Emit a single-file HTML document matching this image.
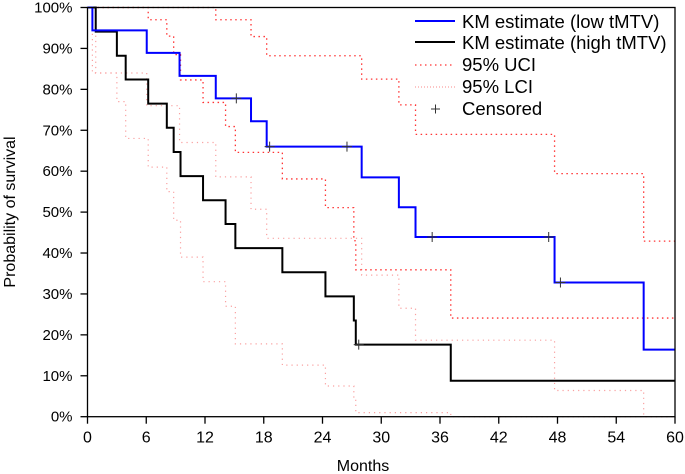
<!DOCTYPE html>
<html><head><meta charset="utf-8"><style>
body{margin:0;background:#fff;}
svg{display:block;font-family:"Liberation Sans",Arial,sans-serif;}
</style></head><body>
<svg id="chart" width="685" height="474" xmlns="http://www.w3.org/2000/svg"></svg>
<script>
const xTicks=[0,6,12,18,24,30,36,42,48,54,60];
const yTicks=[0,10,20,30,40,50,60,70,80,90,100];
const lowTimes=[0,0.5,6.05,9.4,13.1,16.7,18.3,28,31.8,33.5,47.7,56.8,60];
const lowSurv=[100,94.4,88.9,83.3,77.8,72.2,66.0,58.5,51.2,43.9,32.8,16.4,16.4];
const highTimes=[0,0.84,3.0,3.9,6.2,8.1,8.8,9.5,11.8,14.1,15.1,19.9,24.3,27.2,27.4,37.1,60];
const highSurv=[100,94.1,88.2,82.4,76.5,70.6,64.7,58.8,52.9,47.1,41.2,35.3,29.4,23.5,17.6,8.8,8.8];
const lowUciTimes=[0,13.1,16.7,18.3,28,31.8,33.5,47.7,56.8,60];
const lowUci=[100,97,92.9,88.2,82.5,76.2,69,59.4,42.9,42.9];
const highUciTimes=[0,6.2,8.1,8.8,9.5,11.8,14.1,15.1,19.9,24.3,27.2,27.4,37.1,60];
const highUci=[100,97,93,88.5,82.3,76.8,70.9,64.6,58.1,51.1,43,35.9,24.1,24.1];
const lowLciTimes=[0,0.5,6.05,9.4,13.1,16.7,18.3,28,31.8,33.5,47.7,56.8,60];
const lowLci=[100,84,76,67,58.6,50.7,43.6,34.6,26.5,18.7,6.4,0,0];
const highLciTimes=[0,0.84,3.0,3.9,6.2,8.1,8.8,9.5,11.8,14.1,15.1,19.9,24.3,27.2,27.4,37.1,60];
const highLci=[100,84,77,68,61,55,48,39,33,27,17.8,12.6,7.5,4,1,0,0];
const lowCensT=[15.2,18.6,26.5,35.2,47.1,48.3];
const lowCensS=[77.8,66.0,66.0,43.9,43.9,32.8];
const highCensT=[27.7];
const highCensS=[17.6];

const NS='http://www.w3.org/2000/svg';
const svg=document.getElementById('chart');
const X0=87.5,X1=675,Y0=416.7,Y1=7.5;
const xs=t=>X0+(t/60)*(X1-X0);
const ys=v=>Y0-(v/100)*(Y0-Y1);
function mk(tag,attrs,parent){const e=document.createElementNS(NS,tag);for(const k in attrs)e.setAttribute(k,attrs[k]);(parent||svg).appendChild(e);return e;}
function stepPath(T,S){let d='M'+xs(T[0])+','+ys(S[0]);for(let i=1;i<T.length;i++){d+=' H'+xs(T[i])+' V'+ys(S[i]);}return d;}

function series(T,S,stroke,w,dash,name){
  const p=mk('path',{d:stepPath(T,S),fill:'none',stroke:stroke,'stroke-width':w});
  if(dash)p.setAttribute('stroke-dasharray',dash);
  
  
}
series(lowLciTimes,lowLci,'#f9a0a0',1.2,'1.2,4','low-lci-line');
series(highLciTimes,highLci,'#f9a0a0',1.2,'1.2,4','high-lci-line');
series(lowUciTimes,lowUci,'#f33',1.3,'1.5,3.5','low-uci-line');
series(highUciTimes,highUci,'#f33',1.3,'1.5,3.5','high-uci-line');
series(highTimes,highSurv,'#000',2,null,'km-high-tmtv-line');
series(lowTimes,lowSurv,'#00f',2,null,'km-low-tmtv-line');

function cens(T,S,name){for(let i=0;i<T.length;i++){const g=mk('path',{d:'M'+(xs(T[i])-5)+','+ys(S[i])+' h10 M'+xs(T[i])+','+(ys(S[i])-5)+' v10',stroke:'#333','stroke-width':1,fill:'none'});

}}
cens(lowCensT,lowCensS,'censor-mark-low');
cens(highCensT,highCensS,'censor-mark-high');

const fr=mk('rect',{x:X0,y:Y1,width:X1-X0,height:Y0-Y1,fill:'none',stroke:'#000','stroke-width':1.3});



xTicks.forEach(t=>{
  mk('line',{x1:xs(t),x2:xs(t),y1:Y0,y2:Y0+7,stroke:'#000','stroke-width':1.3});
  const tx=mk('text',{x:xs(t),y:Y0+26,'text-anchor':'middle','font-size':16});
  tx.textContent=t;
  
  
});
yTicks.forEach(v=>{
  mk('line',{x1:X0-7,x2:X0,y1:ys(v),y2:ys(v),stroke:'#000','stroke-width':1.3});
  const tx=mk('text',{x:X0-15,y:ys(v)+5,'text-anchor':'end','font-size':15});
  tx.textContent=v+'%';
  
  
});
</script>
<svg style="position:absolute;left:0;top:0" width="685" height="474">
<text x="363" y="471" text-anchor="middle" font-size="16" font-family="Liberation Sans, sans-serif">Months</text>
<text transform="translate(15,212) rotate(-90)" text-anchor="middle" font-size="16" font-family="Liberation Sans, sans-serif">Probability of survival</text>
<g font-size="18.5" font-family="Liberation Sans, sans-serif">
<line x1="415" x2="455" y1="21" y2="21" stroke="#00f" stroke-width="2"/>
<text x="462" y="28">KM estimate (low tMTV)</text>
<line x1="415" x2="455" y1="42" y2="42" stroke="#000" stroke-width="2"/>
<text x="462" y="49">KM estimate (high tMTV)</text>
<line x1="415" x2="455" y1="65" y2="65" stroke="#f33" stroke-width="1.3" stroke-dasharray="1.5,3.5"/>
<text x="462" y="71">95% UCI</text>
<line x1="415" x2="455" y1="87" y2="87" stroke="#f9a0a0" stroke-width="1.2" stroke-dasharray="1,2"/>
<text x="462" y="93">95% LCI</text>
<path d="M431,109 h9 M435.5,104.5 v9" stroke="#333" stroke-width="1"/>
<text x="462" y="115">Censored</text>
</g>
</svg>
</body></html>
